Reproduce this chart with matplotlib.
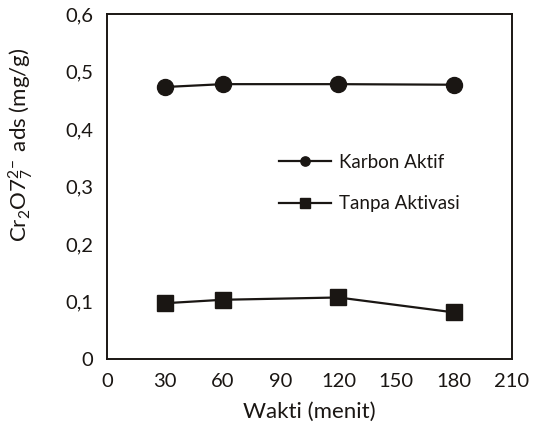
import matplotlib
matplotlib.use("Agg")
import matplotlib.pyplot as plt

plt.rcParams['font.family'] = ['Lato', 'DejaVu Sans']
plt.rcParams['mathtext.fontset'] = 'custom'
plt.rcParams['mathtext.rm'] = 'Lato'
plt.rcParams['mathtext.it'] = 'Lato'

waktu = [30, 60, 120, 180]
karbon_aktif = [0.473, 0.478, 0.478, 0.477]
tanpa_aktivasi = [0.097, 0.103, 0.107, 0.081]
xticks = [0, 30, 60, 90, 120, 150, 180, 210]
yticks = [0, 0.1, 0.2, 0.3, 0.4, 0.5, 0.6]
ytick_labels = ['0', '0,1', '0,2', '0,3', '0,4', '0,5', '0,6']

ink = '#1a1613'
fig = plt.figure(figsize=(5.34, 4.28), dpi=100)
ax = fig.add_axes([107/534, 1-359/428, (512-107)/534, (359-14)/428])

ax.plot(waktu, karbon_aktif, color=ink, lw=1.6, marker='o', ms=11.5, label='Karbon Aktif')
ax.plot(waktu, tanpa_aktivasi, color=ink, lw=1.6, marker='s', ms=12, label='Tanpa Aktivasi')

ax.set_xlim(0, 210)
ax.set_ylim(0, 0.6)
ax.set_xticks(xticks)
ax.set_xticklabels([str(v) for v in xticks])
ax.set_yticks(yticks)
ax.set_yticklabels(ytick_labels)
ax.tick_params(length=0, labelsize=14.5, pad=10, colors=ink)
for s in ax.spines.values():
    s.set_linewidth(1.4)
    s.set_color(ink)

ax.set_xlabel('Wakti (menit)', fontsize=16, color=ink)
ax.xaxis.set_label_coords(0.5, -0.125)
ax.set_ylabel(r'Cr$_2$O7$_7^{2\!-}$ ads (mg/g)', fontsize=16, color=ink)
ax.yaxis.set_label_coords(-0.178, 0.62)

leg = ax.legend(loc='center left', bbox_to_anchor=(262/534, 1-183/428),
                bbox_transform=fig.transFigure, frameon=False,
                fontsize=13.5, handlelength=2.8, handletextpad=0.4,
                labelspacing=1.3, markerscale=0.58)
for t in leg.get_texts():
    t.set_color(ink)

fig.savefig('out.png', dpi=100)
